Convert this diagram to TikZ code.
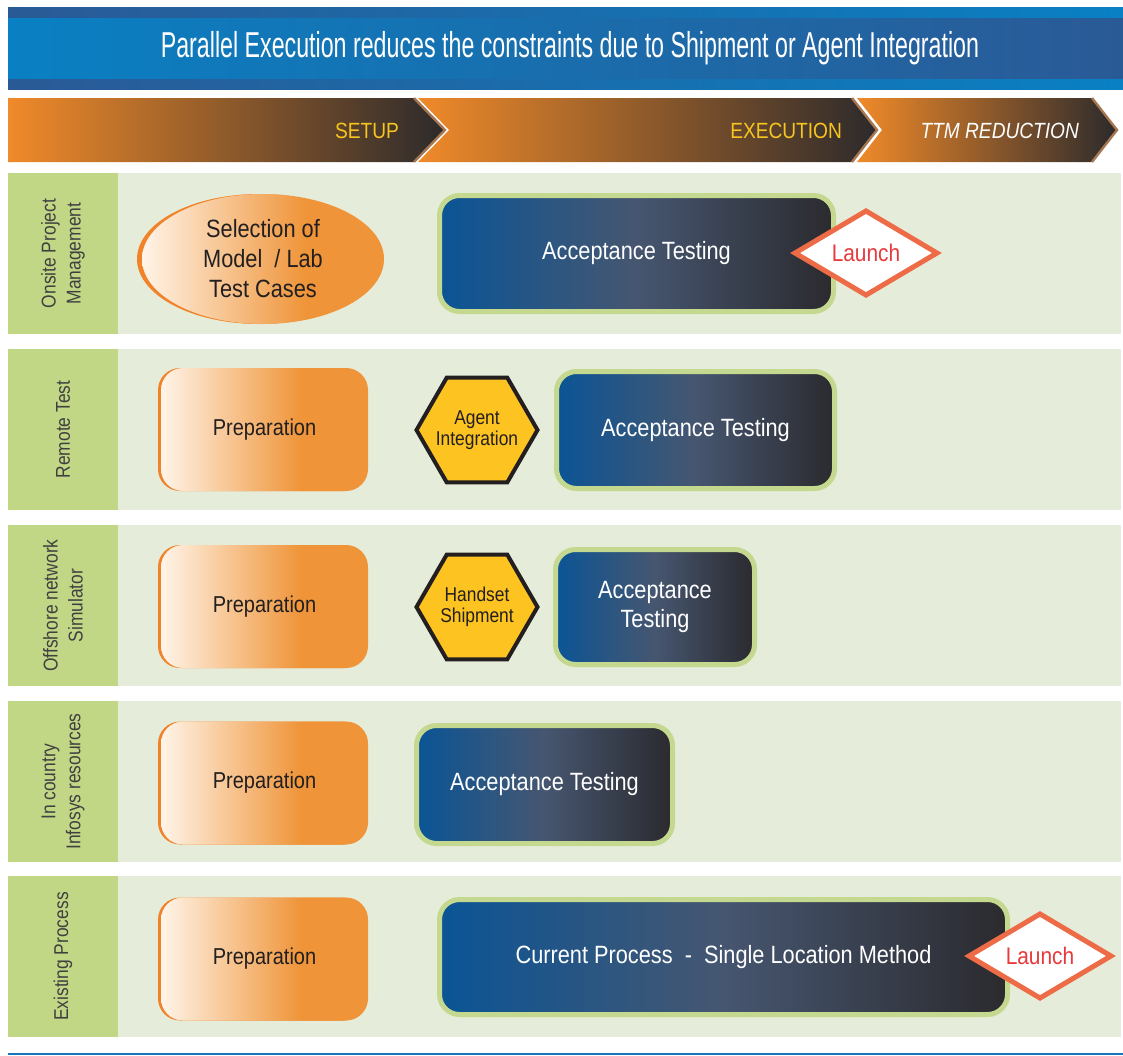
\documentclass[tikz,border=0pt]{standalone}
\usepackage{fontspec}
\setmainfont[FakeStretch=0.87]{Liberation Sans}
\newfontfamily\titlefont[FakeStretch=0.645]{Liberation Sans}
\usetikzlibrary{shapes.geometric}

\definecolor{laneback}{HTML}{E6ECDA}
\definecolor{lanetab}{HTML}{C2D786}
\definecolor{rimgreen}{HTML}{C5D890}
\definecolor{boxblue}{HTML}{0A5596}
\definecolor{boxgrey}{HTML}{465670}
\definecolor{boxdark}{HTML}{2B2A2E}
\definecolor{prepwhite}{HTML}{FFF4E8}
\definecolor{preporange}{HTML}{EF9438}
\definecolor{rimorange}{HTML}{F0832A}
\definecolor{hexyellow}{HTML}{FDC321}
\definecolor{inkdark}{HTML}{231F20}
\definecolor{labelgrey}{HTML}{404040}
\definecolor{launchred}{HTML}{E83A3C}
\definecolor{launchrim}{HTML}{EE6B47}
\definecolor{barorange}{HTML}{F08A2A}
\definecolor{bardark}{HTML}{2C2A2B}
\definecolor{baredge}{HTML}{A57650}
\definecolor{phaseyellow}{HTML}{F8C51E}
\definecolor{titlelight}{HTML}{0980C3}
\definecolor{titledark}{HTML}{2A5A96}
\definecolor{footblue}{HTML}{1B75BB}

\pgfdeclarehorizontalshading{prepshade}{100bp}{color(0bp)=(prepwhite); color(25bp)=(prepwhite); color(59bp)=(preporange); color(100bp)=(preporange)}

\tikzset{
  lanelabel/.style={rotate=90, align=center, text=labelgrey, font=\fontsize{10}{12.5}\selectfont},
  prepbox/.style={rectangle, rounded corners=11pt, minimum width=103.5pt, minimum height=61.5pt,
    shade, shading=prepshade, text=inkdark, font=\fontsize{11.5}{14}\selectfont},
  preprim/.style={rectangle, rounded corners=11pt, minimum width=103.5pt, minimum height=61.5pt, fill=rimorange},
  accbox/.style={rectangle, rounded corners=10pt, draw=rimgreen, line width=2.5pt,
    left color=boxblue, right color=boxdark, middle color=boxgrey,
    text=white, align=center, font=\fontsize{12.5}{14.5}\selectfont},
  gatehex/.style={regular polygon, regular polygon sides=6,
    minimum size=60.5pt, inner sep=0pt, draw=inkdark, line width=2pt, fill=hexyellow},
  hextext/.style={text=inkdark, align=center, font=\fontsize{10}{10.5}\selectfont},
  launchgem/.style={diamond, minimum width=72pt, minimum height=40pt, inner sep=0pt,
    draw=launchrim, line width=2.5pt, fill=white, text=launchred, font=\fontsize{12}{14}\selectfont},
  phaselabel/.style={anchor=east, font=\fontsize{11}{13}\selectfont}
}

\begin{document}
\begin{tikzpicture}[x=0.5pt, y=-0.5pt]
\useasboundingbox (0,0) rectangle (1123,1055);

\shade[left color=titlelight, right color=titledark] (8,7) rectangle (1123,89);
\shade[left color=titledark, right color=titlelight] (8,7) rectangle (1123,17);
\shade[left color=titledark, right color=titlelight] (8,79) rectangle (1123,89);
\node[text=white, font=\titlefont\fontsize{18}{21}\selectfont] (title) at (570,48)
{Parallel Execution reduces the constraints due to Shipment or Agent Integration};

\shade[left color=barorange, right color=bardark] (857,98) -- (1092,98) -- (1117,130) -- (1092,162) -- (857,162) -- (882,130) -- cycle;
\shade[left color=barorange, right color=bardark] (418,98) -- (852,98) -- (877,130) -- (852,162) -- (418,162) -- (449,130) -- cycle;
\shade[left color=barorange, right color=bardark] (8,98) -- (414,98) -- (445,130) -- (414,162) -- (8,162) -- cycle;
\draw[baredge, line width=1.2pt] (414,98) -- (445,130) -- (414,162);
\draw[baredge, line width=1.2pt] (852,98) -- (877,130) -- (852,162);
\draw[baredge, line width=1.2pt] (1092,98) -- (1117,130) -- (1092,162);
\node[phaselabel, text=phaseyellow] (setup) at (406,131) {SETUP};
\node[phaselabel, text=phaseyellow] (execution) at (849,131) {EXECUTION};
\node[phaselabel, text=white, font=\itshape\fontsize{11}{13}\selectfont] (ttm) at (1086,131) {TTM REDUCTION};

\foreach \ytop/\lane/\lanetext in {173/onsite/{Onsite Project\\Management}, 349/remote/{Remote Test},
  525/offshore/{Offshore network\\Simulator}, 701/incountry/{In country\\Infosys resources}, 876/existing/{Existing Process}}{
  \fill[laneback] (118,\ytop) rectangle (1121,{\ytop+161});
  \fill[lanetab] (8,\ytop) rectangle (118,{\ytop+161});
  \node[lanelabel] (\lane) at (63,{\ytop+80.5}) {\lanetext};
}

\fill[rimorange] (259,259) ellipse [x radius=61pt, y radius=32.5pt];
\node[ellipse, minimum width=121pt, minimum height=65pt, inner sep=0pt, shade, shading=prepshade,
  text=inkdark, align=center, font=\fontsize{12.5}{15}\selectfont] (selection) at (263,259)
{Selection of\\Model~ / Lab\\Test Cases};
\node[accbox, minimum width=197pt, minimum height=58pt] (acc1) at (636.5,253.5) {Acceptance Testing};
\node[launchgem] (launch1) at (866,253) {Launch};

\node[preprim] (rim2) at (261.5,429.5) {};
\node[prepbox] (prep2) at (264.5,429.5) {Preparation};
\node[gatehex, label={[hextext]center:Agent\\Integration}] (agent) at (477,430) {};
\node[accbox, minimum width=139pt, minimum height=58.5pt] (acc2) at (695.5,430) {Acceptance Testing};

\node[preprim] (rim3) at (261.5,606.5) {};
\node[prepbox] (prep3) at (264.5,606.5) {Preparation};
\node[gatehex, label={[hextext]center:Handset\\Shipment}] (handset) at (477,607) {};
\node[accbox, minimum width=99.5pt, minimum height=57.5pt] (acc3) at (655,607) {Acceptance\\Testing};

\node[preprim] (rim4) at (261.5,783) {};
\node[prepbox] (prep4) at (264.5,783) {Preparation};
\node[accbox, minimum width=128pt, minimum height=59pt] (acc4) at (544.5,784.5) {Acceptance Testing};

\node[preprim] (rim5) at (261.5,959) {};
\node[prepbox] (prep5) at (264.5,959) {Preparation};
\node[accbox, minimum width=284pt, minimum height=57.5pt] (current) at (723.5,957)
{Current Process~ -~ Single Location Method};
\node[launchgem] (launch5) at (1040,956) {Launch};

\draw[footblue, line width=1pt] (8,1054) -- (1123,1054);
\end{tikzpicture}
\end{document}
